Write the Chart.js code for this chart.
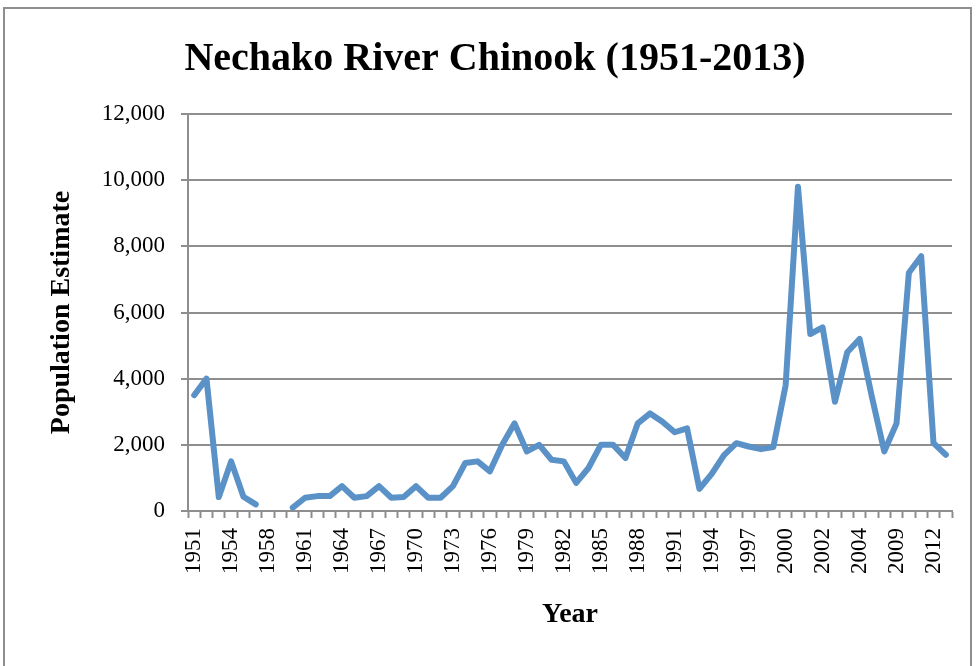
<!DOCTYPE html>
<html>
<head>
<meta charset="utf-8">
<title>Nechako River Chinook (1951-2013)</title>
<script src="https://cdn.jsdelivr.net/npm/chart.js@4.4.1/dist/chart.umd.min.js"></script>
<style>
    html, body { margin: 0; padding: 0; background: #ffffff; overflow: hidden; }
    #wrap { position: relative; width: 976px; height: 666px; }
    #frame { position: absolute; left: 3px; top: 7px; width: 965px; height: 700px; border: 2px solid #8e8e8e; }
    #chinookChart { position: absolute; left: 0; top: 0; }
</style>
</head>
<body>
<div id="wrap">
    <div id="frame"></div>
    <canvas id="chinookChart" width="976" height="666"></canvas>
</div>
<script>
// Years on the category axis (1957 is not in the table)
const years = [
    '1951', '1952', '1953', '1954', '1955', '1956',
    '1958', '1959', '1960', '1961', '1962', '1963', '1964', '1965', '1966', '1967', '1968', '1969',
    '1970', '1971', '1972', '1973', '1974', '1975', '1976', '1977', '1978', '1979',
    '1980', '1981', '1982', '1983', '1984', '1985', '1986', '1987', '1988', '1989',
    '1990', '1991', '1992', '1993', '1994', '1995', '1996', '1997', '1998', '1999',
    '2000', '2001', '2001', '2002', '2002', '2003', '2004', '2005', '2008', '2009',
    '2010', '2011', '2012', '2013'
];

// Population estimate per year (null = no count)
const chinookCounts = [
    3500, 4000, 420, 1500, 430, 200,
    null, null, 100, 400, 450, 450, 750, 400, 450, 750, 400, 420,
    750, 400, 400, 750, 1450, 1500, 1200, 2000, 2650, 1800,
    2000, 1550, 1500, 850, 1300, 2000, 2000, 1600, 2650, 2950,
    2700, 2380, 2500, 670, 1120, 1690, 2050, 1950, 1870, 1930,
    3800, 9800, 5350, 5550, 3300, 4800, 5200, 3450, 1800, 2650,
    7200, 7700, 2050, 1700
];

// Only every third year gets a label
const labelStep = 3;

const yTicks = [0, 2000, 4000, 6000, 8000, 10000, 12000];

const serif = '"Liberation Serif", "Times New Roman", serif';
const gridGrey = '#8e8e8e';

const ctx = document.getElementById('chinookChart').getContext('2d');

window.chinookChart = new Chart(ctx, {
    type: 'line',
    data: {
        labels: years,
        datasets: [{
            label: 'Population Estimate',
            data: chinookCounts,
            borderColor: '#5a92c8',
            borderWidth: 6,
            borderJoinStyle: 'round',
            borderCapStyle: 'round',
            pointRadius: 0,
            pointHoverRadius: 0,
            tension: 0,
            spanGaps: false,
            fill: false
        }]
    },
    options: {
        responsive: false,
        animation: false,
        devicePixelRatio: 1,
        layout: {
            padding: { left: 38, right: 24, top: 0, bottom: 0 }
        },
        plugins: {
            legend: { display: false },
            tooltip: { enabled: false },
            title: {
                display: true,
                text: 'Nechako River Chinook (1951-2013)',
                color: '#000000',
                font: { family: serif, size: 40, weight: 'bold' },
                padding: { top: 36, bottom: 30 }
            }
        },
        scales: {
            x: {
                type: 'category',
                offset: true,
                afterFit: function (scale) {
                    scale.height = 155;
                    // rotated labels should not shrink the plot sideways
                    scale.paddingLeft = 0;
                    scale.paddingRight = 0;
                },
                grid: {
                    display: true,
                    offset: true,
                    drawOnChartArea: false,
                    drawTicks: true,
                    tickLength: 7,
                    tickColor: gridGrey,
                    tickWidth: 2
                },
                border: { display: true, color: gridGrey, width: 2 },
                ticks: {
                    autoSkip: false,
                    maxRotation: 90,
                    minRotation: 90,
                    padding: 10,
                    color: '#000000',
                    font: { family: serif, size: 23 },
                    callback: function (value, index) {
                        return index % labelStep === 0 ? years[index] : '';
                    }
                },
                title: {
                    display: true,
                    text: 'Year',
                    color: '#000000',
                    font: { family: serif, size: 28, weight: 'bold' },
                    padding: { top: 0, bottom: 34 }
                }
            },
            y: {
                min: yTicks[0],
                max: yTicks[yTicks.length - 1],
                afterFit: function (scale) { scale.width = 150; },
                afterBuildTicks: function (scale) {
                    scale.ticks = yTicks.map(v => ({ value: v }));
                },
                grid: {
                    color: gridGrey,
                    lineWidth: 2,
                    drawTicks: true,
                    tickLength: 7,
                    tickColor: gridGrey
                },
                border: { display: true, color: gridGrey, width: 2 },
                ticks: {
                    padding: 16,
                    color: '#000000',
                    font: { family: serif, size: 23 },
                    callback: function (value) {
                        return Number(value).toLocaleString('en-US');
                    }
                },
                title: {
                    display: true,
                    text: 'Population Estimate',
                    color: '#000000',
                    font: { family: serif, size: 28, weight: 'bold' },
                    padding: { top: 7, bottom: 0 }
                }
            }
        }
    }
});
</script>
</body>
</html>
